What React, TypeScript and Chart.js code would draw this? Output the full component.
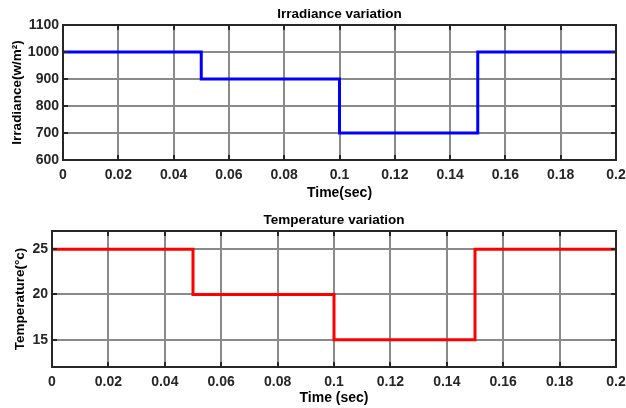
import React, { useEffect, useRef } from 'react';
import { Chart, registerables } from 'chart.js';

Chart.register(...registerables);

// ---- Data ----
const timePoints = [0, 0.05, 0.1, 0.15, 0.2];
const irradianceValues = [1000, 900, 700, 1000, 1000];
const temperatureValues = [25, 20, 15, 25, 25];

const xTickValues = [0, 0.02, 0.04, 0.06, 0.08, 0.1, 0.12, 0.14, 0.16, 0.18, 0.2];
const xTickLabels = ['0', '0.02', '0.04', '0.06', '0.08', '0.1', '0.12', '0.14', '0.16', '0.18', '0.2'];
const irradianceTickValues = [600, 700, 800, 900, 1000, 1100];
const irradianceTickLabels = ['600', '700', '800', '900', '1000', '1100'];
const temperatureTickValues = [15, 20, 25];
const temperatureTickLabels = ['15', '20', '25'];

const FONT = "'Liberation Sans', Arial, Helvetica, sans-serif";

const boxPlugin = {
  id: 'matlabBox',
  afterDraw(chart: any) {
    const { ctx, chartArea } = chart;
    const { left, right, top, bottom } = chartArea;
    const xs = chart.scales.x;
    const ys = chart.scales.y;
    ctx.save();
    ctx.strokeStyle = '#262626';
    ctx.lineWidth = 2;
    const tl = 5;
    ctx.beginPath();
    xs.ticks.forEach((t: any) => {
      const px = Math.round(xs.getPixelForValue(t.value));
      ctx.moveTo(px, bottom);
      ctx.lineTo(px, bottom - tl);
      ctx.moveTo(px, top);
      ctx.lineTo(px, top + tl);
    });
    ys.ticks.forEach((t: any) => {
      const py = Math.round(ys.getPixelForValue(t.value));
      ctx.moveTo(left, py);
      ctx.lineTo(left + tl, py);
      ctx.moveTo(right, py);
      ctx.lineTo(right - tl, py);
    });
    ctx.stroke();
    ctx.strokeRect(left, top, right - left, bottom - top);
    // title
    const title = chart.options.plugins.matlabBox?.title;
    if (title) {
      ctx.fillStyle = '#000';
      ctx.font = `bold 13.5px ${FONT}`;
      ctx.textAlign = 'center';
      ctx.textBaseline = 'middle';
      ctx.fillText(title, (left + right) / 2, top - 10.5);
    }
    ctx.restore();
  },
};

type Cfg = {
  values: number[];
  color: string;
  yMin: number;
  yMax: number;
  yTickValues: number[];
  yTickLabels: string[];
  yTitle: string;
  xTitle: string;
  title: string;
  yWidth: number;
  padTop: number;
  xHeight: number;
  yTitlePad: number;
  xTitlePad: number;
};

function makeConfig(c: Cfg): any {
  return {
    type: 'line',
    data: {
      datasets: [
        {
          data: timePoints.map((t, i) => ({ x: t, y: c.values[i] })),
          borderColor: c.color,
          borderWidth: 3,
          pointRadius: 0,
          stepped: 'before',
          fill: false,
        },
      ],
    },
    options: {
      animation: false,
      responsive: false,
      layout: { padding: { top: c.padTop, right: 10, left: 0, bottom: 0 } },
      plugins: {
        legend: { display: false },
        tooltip: { enabled: false },
        title: { display: false },
        matlabBox: { title: c.title },
      },
      scales: {
        x: {
          type: 'linear',
          min: 0,
          max: 0.2,
          afterBuildTicks: (s: any) => {
            s.ticks = xTickValues.map((v) => ({ value: v }));
          },
          afterFit: (s: any) => {
            s.height = c.xHeight;
            s.paddingLeft = 0;
            s.paddingRight = 0;
          },
          grid: { color: '#8a8a8a', lineWidth: 2, drawTicks: false },
          border: { display: false },
          ticks: {
            autoSkip: false,
            maxRotation: 0,
            padding: 8,
            color: '#262626',
            font: { family: FONT, size: 14, weight: 'bold', lineHeight: 1 },
            callback: (_v: any, i: number) => xTickLabels[i],
          },
          title: {
            display: true,
            text: c.xTitle,
            color: '#000',
            padding: { top: 0, bottom: c.xTitlePad },
            font: { family: FONT, size: 14, weight: 'bold', lineHeight: 1 },
          },
        },
        y: {
          type: 'linear',
          min: c.yMin,
          max: c.yMax,
          afterBuildTicks: (s: any) => {
            s.ticks = c.yTickValues.map((v) => ({ value: v }));
          },
          afterFit: (s: any) => {
            s.width = c.yWidth;
            s.paddingTop = 0;
            s.paddingBottom = 0;
          },
          grid: { color: '#8a8a8a', lineWidth: 2, drawTicks: false },
          border: { display: false },
          ticks: {
            padding: 4,
            color: '#262626',
            font: { family: FONT, size: 14, weight: 'bold', lineHeight: 1 },
            callback: (_v: any, i: number) => c.yTickLabels[i],
          },
          title: {
            display: true,
            text: c.yTitle,
            color: '#000',
            padding: { top: c.yTitlePad, bottom: 0 },
            font: { family: FONT, size: 13.5, weight: 'bold', lineHeight: 1 },
          },
        },
      },
    },
    plugins: [boxPlugin],
  };
}

function Plot({ cfg, width, height }: { cfg: Cfg; width: number; height: number }) {
  const ref = useRef<HTMLCanvasElement>(null);
  useEffect(() => {
    if (!ref.current) return;
    const chart = new Chart(ref.current, makeConfig(cfg));
    return () => chart.destroy();
  }, []);
  return <canvas ref={ref} width={width} height={height} style={{ display: 'block', width, height }} />;
}

export default function App() {
  const top: Cfg = {
    values: irradianceValues,
    color: '#0000ff',
    yMin: 600,
    yMax: 1100,
    yTickValues: irradianceTickValues,
    yTickLabels: irradianceTickLabels,
    yTitle: 'Irradiance(w/m²)',
    xTitle: 'Time(sec)',
    title: 'Irradiance variation',
    yWidth: 63,
    padTop: 25,
    xHeight: 40,
    yTitlePad: 11,
    xTitlePad: 0,
  };
  const bottom: Cfg = {
    values: temperatureValues,
    color: '#ff0000',
    yMin: 12,
    yMax: 27,
    yTickValues: temperatureTickValues,
    yTickLabels: temperatureTickLabels,
    yTitle: 'Temperature(°c)',
    xTitle: 'Time (sec)',
    title: 'Temperature variation',
    yWidth: 52,
    padTop: 31,
    xHeight: 41,
    yTitlePad: 14,
    xTitlePad: 3,
  };
  return (
    <div style={{ position: 'absolute', left: 0, top: 0, width: 626, height: 408, background: '#fff' }}>
      <Plot cfg={top} width={626} height={200} />
      <Plot cfg={bottom} width={626} height={208} />
    </div>
  );
}
